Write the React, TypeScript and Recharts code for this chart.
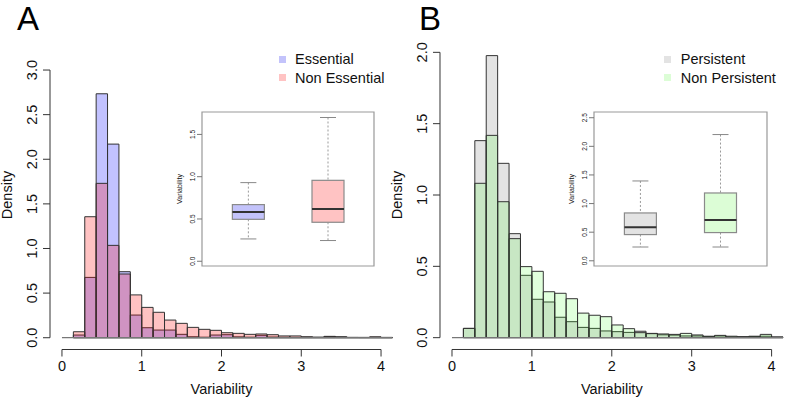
import React from 'react';
import {
  ComposedChart, Bar, Cell, XAxis, YAxis, ReferenceLine, ReferenceArea, Legend,
} from 'recharts';

const FONT = '"Liberation Sans", Arial, Helvetica, sans-serif';

// bins are 1/7 wide, the first one starts at x = 1/7
const BIN = 1 / 7;
const X_DOMAIN = [-0.15, 4.15];
const xTicks = [0, 1, 2, 3, 4];

// panel A densities
const essential = [0.03, 0.676, 2.734, 2.17, 0.74, 0.254, 0.112, 0.086, 0.086, 0.038, 0.011, 0.006, 0.03, 0.034,
  0.01, 0.006, 0.027, 0.008, 0.005, 0.004, 0.008, 0.004, 0.014, 0.003, 0.003, 0.002, 0.006, 0.002];
const nonEssential = [0.067, 1.356, 1.73, 1.035, 0.714, 0.48, 0.34, 0.285, 0.198, 0.161, 0.116, 0.094, 0.083, 0.056,
  0.049, 0.038, 0.042, 0.034, 0.02, 0.02, 0.01, 0.006, 0.015, 0.012, 0.004, 0.004, 0.01, 0.004];
const yTicksA = [0, 0.5, 1, 1.5, 2, 2.5, 3];

// panel B densities
const persistent = [0.065, 1.381, 1.977, 1.222, 0.729, 0.437, 0.269, 0.25, 0.143, 0.112, 0.072, 0.065, 0.047, 0.042,
  0.037, 0.045, 0.028, 0.02, 0.018, 0.012, 0.012, 0.008, 0.012, 0.006, 0.006, 0.008, 0.01, 0.004];
const nonPersistent = [0.065, 1.082, 1.418, 0.953, 0.694, 0.498, 0.465, 0.322, 0.311, 0.273, 0.172, 0.157, 0.147, 0.089,
  0.063, 0.035, 0.03, 0.026, 0.023, 0.03, 0.019, 0.01, 0.016, 0.01, 0.007, 0.01, 0.023, 0.005];
const yTicksB = [0, 0.5, 1, 1.5, 2];

// inset box plots: lower whisker, Q1, median, Q3, upper whisker
const boxNamesA = ['Essential', 'Non Essential'];
const boxLowA = [0.264, 0.245];
const boxQ1A = [0.496, 0.461];
const boxMedA = [0.583, 0.618];
const boxQ3A = [0.67, 0.957];
const boxHighA = [0.93, 1.7];
const insetTicksA = [0, 0.5, 1, 1.5];

const boxNamesB = ['Persistent', 'Non Persistent'];
const boxLowB = [0.241, 0.241];
const boxQ1B = [0.458, 0.493];
const boxMedB = [0.586, 0.713];
const boxQ3B = [0.836, 1.185];
const boxHighB = [1.395, 2.206];
const insetTicksB = [0, 0.5, 1, 1.5, 2, 2.5];

const RotTick = ({ x, y, payload, shift, size }: any) => {
  const bx = x - shift;
  return (
    <text x={bx} y={y} transform={`rotate(-90 ${bx} ${y})`} textAnchor="middle" fontSize={size} fill="#111">
      {Number(payload.value).toFixed(1)}
    </text>
  );
};

const YTitle = ({ viewBox, text, dist, size }: any) => {
  if (!viewBox) return null;
  const x = viewBox.x + dist;
  const y = viewBox.y + viewBox.height / 2;
  return (
    <text x={x} y={y} transform={`rotate(-90 ${x} ${y})`} textAnchor="middle" fontSize={size} fill="#111">
      {text}
    </text>
  );
};

const LegendBox = ({ labels, colors }: any) => (
  <div style={{ fontFamily: FONT, fontSize: 14.5, color: '#111' }}>
    {labels.map((l: string, i: number) => (
      <div key={l} style={{ display: 'flex', alignItems: 'center', height: 18.2, whiteSpace: 'nowrap' }}>
        <span style={{ display: 'inline-block', width: 7, height: 7, background: colors[i], marginRight: 9.5 }} />
        <span>{l}</span>
      </div>
    ))}
  </div>
);

const BoxShape = (props: any) => {
  const { x, y, width, height, fill, payload } = props;
  const d = payload;
  const py = (v: number) => y + (height * (d.hi - v)) / (d.hi - d.lo);
  const cx = x + width / 2;
  const cap = width / 4;
  return (
    <g>
      <line x1={cx} x2={cx} y1={py(d.hi)} y2={py(d.q3)} stroke="#9a9a9a" strokeDasharray="2 2" />
      <line x1={cx} x2={cx} y1={py(d.q1)} y2={py(d.lo)} stroke="#9a9a9a" strokeDasharray="2 2" />
      <line x1={cx - cap} x2={cx + cap} y1={py(d.hi)} y2={py(d.hi)} stroke="#888" />
      <line x1={cx - cap} x2={cx + cap} y1={py(d.lo)} y2={py(d.lo)} stroke="#888" />
      <rect x={x} y={py(d.q3)} width={width} height={py(d.q1) - py(d.q3)} fill={fill} stroke="#8a8a8a" strokeWidth={1.2} />
      <line x1={x} x2={x + width} y1={py(d.med)} y2={py(d.med)} stroke="#333" strokeWidth={2} />
    </g>
  );
};

const BoxInset = ({ left, plotWidth, names, low, q1, med, q3, high, colors, yDomain, yTicks }: any) => {
  const data = names.map((n: string, i: number) => ({
    name: n, pos: i + 1, lo: low[i], q1: q1[i], med: med[i], q3: q3[i], hi: high[i],
  }));
  return (
    <div style={{ position: 'absolute', left, top: 107.7 }}>
      <ComposedChart width={30 + plotWidth + 4} height={162} data={data} margin={{ top: 4, right: 4, bottom: 4, left: 0 }}>
        <XAxis type="number" dataKey="pos" domain={[0.42, 2.58]} allowDataOverflow hide />
        <YAxis
          type="number"
          domain={yDomain}
          ticks={yTicks}
          interval={0}
          allowDataOverflow
          width={30}
          axisLine={false}
          tickSize={5}
          tickMargin={0}
          tickLine={{ stroke: '#777' }}
          tick={<RotTick shift={2} size={6.5} />}
          label={<YTitle text="Variability" dist={10} size={7} />}
        />
        <ReferenceArea x1={0.42} x2={2.58} y1={yDomain[0]} y2={yDomain[1]} fill="none" stroke="#999" strokeWidth={1.2} ifOverflow="visible" />
        <Bar dataKey={(d: any) => [d.lo, d.hi]} barSize={32} shape={<BoxShape />} isAnimationActive={false}>
          {data.map((d: any, i: number) => <Cell key={d.name} fill={colors[i]} />)}
        </Bar>
      </ComposedChart>
    </div>
  );
};

const Histogram = ({ left, plotWidth, rightPad, first, second, fills, names, legendColors, legendLeft, yDomain, yTicks }: any) => {
  const data = first.map((v: number, i: number) => ({ x: (i + 1.5) * BIN, first: v, second: second[i] }));
  const barSize = plotWidth / ((X_DOMAIN[1] - X_DOMAIN[0]) / BIN) - 0.01;
  const lastEdge = (first.length + 1) * BIN;
  const yTop = yTicks[yTicks.length - 1];
  return (
    <div style={{ position: 'absolute', left, top: 0 }}>
      <ComposedChart
        width={50 + plotWidth + rightPad}
        height={401}
        data={data}
        margin={{ top: 40.5, right: rightPad, bottom: 0, left: 0 }}
      >
        <XAxis
          xAxisId="main"
          type="number"
          dataKey="x"
          domain={X_DOMAIN}
          allowDataOverflow
          ticks={xTicks}
          interval={0}
          height={51.5}
          axisLine={false}
          tickSize={7}
          tickMargin={4.2}
          tickLine={{ stroke: '#333' }}
          tick={{ fill: '#111', fontSize: 14.5 }}
          label={{ value: 'Variability', position: 'insideBottom', offset: 6.7, fill: '#111', fontSize: 14.5 }}
        />
        <XAxis xAxisId="over" type="number" dataKey="x" domain={X_DOMAIN} allowDataOverflow hide />
        <YAxis
          type="number"
          domain={yDomain}
          ticks={yTicks}
          interval={0}
          allowDataOverflow
          width={50}
          axisLine={false}
          tickSize={7}
          tickMargin={0}
          tickLine={{ stroke: '#333' }}
          tick={<RotTick shift={5.7} size={14.5} />}
          label={<YTitle text="Density" dist={12} size={14.5} />}
        />
        <ReferenceLine xAxisId="main" segment={[{ x: 0, y: 0 }, { x: lastEdge, y: 0 }]} stroke="#777" strokeWidth={1.3} ifOverflow="visible" />
        <Bar xAxisId="main" dataKey="first" barSize={barSize} fill={fills[0]} stroke="#333" strokeWidth={1} isAnimationActive={false} />
        <Bar xAxisId="over" dataKey="second" barSize={barSize} fill={fills[1]} stroke="#333" strokeWidth={1} isAnimationActive={false} />
        <ReferenceLine xAxisId="main" segment={[{ x: 0, y: yDomain[0] }, { x: 4, y: yDomain[0] }]} stroke="#333" ifOverflow="visible" />
        <ReferenceLine xAxisId="main" segment={[{ x: X_DOMAIN[0], y: 0 }, { x: X_DOMAIN[0], y: yTop }]} stroke="#333" ifOverflow="visible" />
        <Legend
          layout="vertical"
          align="center"
          verticalAlign="middle"
          wrapperStyle={{ left: legendLeft, top: 50.3 }}
          content={() => <LegendBox labels={names} colors={legendColors} />}
        />
      </ComposedChart>
    </div>
  );
};

const App = () => (
  <div style={{ position: 'absolute', left: 0, top: 0, width: 787, height: 401, background: '#fff', fontFamily: FONT, overflow: 'hidden' }}>
    <Histogram
      left={0}
      plotWidth={343}
      rightPad={0}
      first={essential}
      second={nonEssential}
      fills={['rgba(0,0,255,0.24)', 'rgba(255,0,0,0.24)']}
      names={['Essential', 'Non Essential']}
      legendColors={['#c3c3fb', '#ffc3c3']}
      legendLeft={278.5}
      yDomain={[-0.132, 3.331]}
      yTicks={yTicksA}
    />
    <Histogram
      left={390}
      plotWidth={343.6}
      rightPad={3}
      first={persistent}
      second={nonPersistent}
      fills={['rgba(128,128,128,0.22)', 'rgba(60,255,40,0.16)']}
      names={['Persistent', 'Non Persistent']}
      legendColors={['#e3e3e3', '#dcfdd6']}
      legendLeft={274.3}
      yDomain={[-0.083, 2.083]}
      yTicks={yTicksB}
    />
    <BoxInset
      left={171.7}
      plotWidth={172}
      names={boxNamesA}
      low={boxLowA}
      q1={boxQ1A}
      med={boxMedA}
      q3={boxQ3A}
      high={boxHighA}
      colors={['#c3c3fb', '#ffc3c3']}
      yDomain={[-0.056, 1.765]}
      yTicks={insetTicksA}
    />
    <BoxInset
      left={564.3}
      plotWidth={173}
      names={boxNamesB}
      low={boxLowB}
      q1={boxQ1B}
      med={boxMedB}
      q3={boxQ3B}
      high={boxHighB}
      colors={['#e3e3e3', '#dcfdd6']}
      yDomain={[-0.091, 2.6]}
      yTicks={insetTicksB}
    />
    <svg width={787} height={40} style={{ position: 'absolute', left: 0, top: 0, pointerEvents: 'none' }}>
      <text x={17} y={30} fontSize={33} fill="#000">A</text>
      <text x={419} y={30} fontSize={33} fill="#000">B</text>
    </svg>
  </div>
);

export default App;
